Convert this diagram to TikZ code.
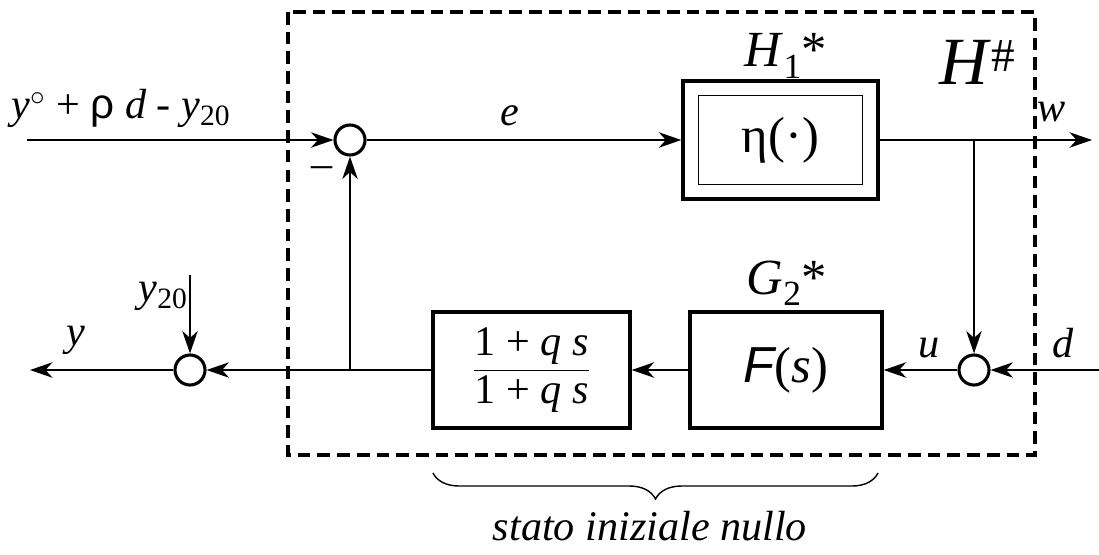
\documentclass[tikz,border=0pt]{standalone}
\usepackage{fontspec}
\setmainfont{Liberation Serif}
\newfontfamily\symbfont{Liberation Sans}
\usetikzlibrary{arrows.meta,decorations.pathreplacing}

\tikzset{
  blk/.style={draw,line width=2.4pt,inner sep=0pt,minimum height=2.9cm},
  sumpt/.style={draw,circle,line width=2.2pt,minimum size=0.75cm,inner sep=0pt},
  sig/.style={line width=1.3pt},
  lbl/.style={font=\fontsize{30}{34}\selectfont\itshape},
  big/.style={font=\fontsize{36}{40}\selectfont},
}

\begin{document}
\begin{tikzpicture}[x=0.025cm,y=-0.025cm,>={Stealth[length=16pt,width=11pt,inset=5pt]},font=\fontsize{30}{34}\selectfont]
  \useasboundingbox (0,0) rectangle (1099,554);
  \draw[line width=2.8pt,dash pattern=on 9pt off 5pt] (288,12) rectangle (1035,455);
  % summing points
  \node[sumpt] (s1) at (350,140) {};
  \node[sumpt] (s2) at (974,370) {};
  \node[sumpt] (s3) at (190,370) {};
  % blocks
  \node[blk,minimum width=4.875cm,minimum height=2.95cm] (h1) at (780.5,140) {};
  \node[draw,line width=1.2pt,minimum width=4.1cm,minimum height=2.225cm,big] (eta) at (h1) {η(·)};
  \node[blk,minimum width=4.8cm,big] (fs) at (786,370) {{\symbfont\itshape F}(\textit{s})};
  \node[blk,minimum width=4.925cm] (fr) at (531.5,370) {$\displaystyle\frac{\hbox{1 + \itshape q s}}{\hbox{1 + \itshape q s}}$};
  % free ends
  \coordinate (in) at (27,140);
  \coordinate (out) at (1092,140);
  \coordinate (br) at (974,140);
  \coordinate (din) at (1099,370);
  \coordinate (fb) at (350,370);
  \coordinate (yout) at (30,370);
  \coordinate (y20) at (190,275);
  % connectors
  \draw[sig,->] (in) -- (s1);
  \draw[sig,->] (s1) -- (h1);
  \draw[sig,->] (h1) -- (out);
  \draw[sig,->] (br) -- (s2);
  \draw[sig,->] (din) -- (s2);
  \draw[sig,->] (s2) -- (fs);
  \draw[sig,->] (fs) -- (fr);
  \draw[sig,->] (fr) -- (s3);
  \draw[sig,->] (fb) -- (s1);
  \draw[sig,->] (s3) -- (yout);
  \draw[sig,->] (y20) -- (s3);
  % labels
  \node (lin) at (121,108) {\textit{y}$^\circ$ + {\symbfont ρ} \textit{d} - \textit{y}\textsubscript{20}};
  \node[lbl] (le) at (510,116) {e};
  \node[lbl] (lw) at (1052,112) {w};
  \node[lbl] (lu) at (929,348) {u};
  \node[lbl] (ld) at (1063,343) {d};
  \node[lbl] (ly) at (76,340) {y};
  \node (ly20) at (163,296) {\textit{y}\textsubscript{20}};
  \node (lminus) at (322,172) {\textendash};
  \node[big] (lh1) at (786,56) {\textit{H}\textsubscript{1}*};
  \node[big] (lg2) at (787,283) {\textit{G}\textsubscript{2}*};
  \node[font=\fontsize{48}{52}\selectfont] (lh) at (978,62) {\textit{H}\textsuperscript{\#}};
  % brace
  \draw[line width=1pt,decorate,decoration={brace,mirror,amplitude=0.65cm}] (433,473) -- (878,473);
  \node[lbl] (lstate) at (650,526) {stato iniziale nullo};
\end{tikzpicture}
\end{document}
